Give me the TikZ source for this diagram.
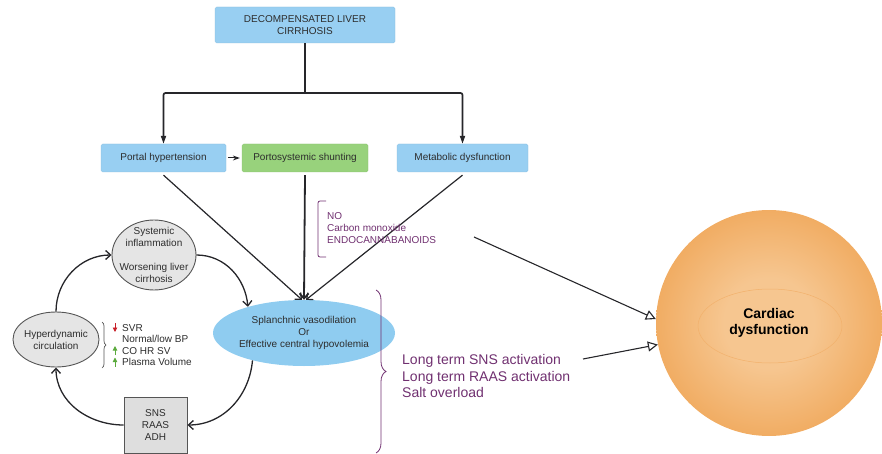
\documentclass[tikz,border=0pt]{standalone}
\usepackage{fontspec}
\setmainfont{Liberation Sans}
\usetikzlibrary{positioning, arrows.meta, shapes, decorations.pathreplacing}
\definecolor{kskyblue}{RGB}{152,207,242}
\definecolor{kellblue}{RGB}{143,204,240}
\definecolor{kgreen}{RGB}{152,210,124}
\definecolor{klightgrey}{RGB}{229,229,229}
\definecolor{kboxgrey}{RGB}{222,222,222}
\definecolor{kdarkgrey}{RGB}{85,85,85}
\definecolor{ktext}{RGB}{45,45,45}
\definecolor{kline}{RGB}{38,38,42}
\definecolor{kpurple}{RGB}{112,48,112}
\definecolor{kred}{RGB}{200,30,40}
\definecolor{kupgreen}{RGB}{90,170,60}
\definecolor{kcardin}{RGB}{246,198,144}
\definecolor{kcardout}{RGB}{232,130,24}
\pgfdeclareradialshading{cardshade}{\pgfpoint{0bp}{0bp}}{color(0bp)=(kcardin); color(10bp)=(kcardin); color(50bp)=(kcardout); color(100bp)=(kcardout)}

\tikzset{
    bluebox/.style={rectangle, rounded corners=1.5pt, fill=kskyblue, draw=kskyblue!90!black, line width=0.3pt, text=ktext, align=center, minimum height=28, inner sep=0pt},
    greenbox/.style={bluebox, fill=kgreen, draw=kgreen!90!black},
    greyell/.style={ellipse, draw=kdarkgrey, line width=0.9pt, fill=klightgrey, inner sep=0pt},
    tree/.style={line width=1.7pt, draw=kline, rounded corners=2pt},
    conv/.style={line width=1.2pt, draw=kline, -{Straight Barb[length=5pt, width=9pt]}},
    cyc/.style={line width=1.3pt, draw=kline, -{Straight Barb[length=5pt, width=9pt]}},
    feed/.style={line width=1.1pt, draw=kline, -{Triangle[open, length=10pt, width=10pt]}},
    purp/.style={text=kpurple, align=left, inner sep=1pt},
    tinyarrow/.style={line width=0.9pt, -{Triangle[length=4.5pt, width=4.5pt]}}
}

\begin{document}
\begin{tikzpicture}[x=1pt, y=1pt, font=\fontsize{10}{12}\selectfont]
        \useasboundingbox (0,0) rectangle (882,-454);

        % cardiac dysfunction
        \node[circle, minimum size=226, shading=cardshade, inner sep=0pt, font=\bfseries\fontsize{14}{16}\selectfont, align=center] (cardiac) at (769,-323) {Cardiac\\dysfunction};
        \draw[kcardout!30!kcardin, line width=0.5pt] (770,-326) ellipse[x radius=72, y radius=37];

        % tree
        \node[bluebox, minimum width=180, minimum height=36] (cirr) at (305,-25) {DECOMPENSATED LIVER\\CIRRHOSIS};
        \node[bluebox, minimum width=125] (portal) at (163.5,-158) {Portal hypertension};
        \node[greenbox, minimum width=126] (shunt) at (305,-158) {Portosystemic shunting};
        \node[bluebox, minimum width=131] (metab) at (462.5,-158) {Metabolic dysfunction};
        \coordinate (split) at (305,-93);
        \draw[tree] (cirr.south) -- (split);
        \draw[tree, -{Triangle[length=8pt, width=5pt]}] (split) -| (portal.north);
        \draw[tree, -{Triangle[length=8pt, width=5pt]}] (split) -| (metab.north);
        \draw[line width=1pt, kline, -{Stealth[length=7pt, width=5pt]}, shorten <=2pt, shorten >=2pt] (portal) -- (shunt);

        % splanchnic vasodilation
        \node[ellipse, fill=kellblue, minimum width=182, minimum height=66, inner sep=0pt] (splanch) at (304,-333) {};
        \node[align=center, text=ktext] at (splanch) {Splanchnic vasodilation\\Or\\Effective central hypovolemia};
        \draw[conv] ([yshift=-3]portal.south) -- ([xshift=-2]splanch.north);
        \draw[conv, line width=1.8pt] ([yshift=-3]shunt.south) -- (splanch.north);
        \draw[conv] ([yshift=-3]metab.south) -- ([xshift=2]splanch.north);

        %% mediators
        \draw[kpurple, line width=0.8pt, rounded corners=2pt] (326,-201) -- (318,-201) -- (318,-257) -- (326,-257);
        \node[purp, anchor=west] (mediators) at (326,-228) {NO\\Carbon monoxide\\ENDOCANNABANOIDS};

        % vicious circle
        \node[greyell, minimum width=84, minimum height=70] (sysinf) at (154,-255) {};
        \node[align=center, text=ktext] at (sysinf) {Systemic\\inflammation\\[12pt]Worsening liver\\cirrhosis};
        \node[greyell, minimum width=86, minimum height=55] (hyper) at (56,-339.5) {};
        \node[align=center, text=ktext] at (hyper) {Hyperdynamic\\circulation};
        \node[rectangle, draw=kdarkgrey, line width=0.9pt, fill=kboxgrey, minimum width=63, minimum height=56, align=center, text=ktext] (sns) at (155.5,-425) {SNS\\RAAS\\ADH};

        \draw[cyc] (hyper.north) to[out=90, in=180] (sysinf.west);
        \draw[cyc] (sysinf.east) to[out=0, in=95] (splanch.155);
        \draw[cyc] (splanch.208) to[out=-95, in=0] (sns.east);
        \draw[cyc] (sns.west) to[out=180, in=-90] (hyper.south);

        %% haemodynamics
        \draw[kdarkgrey, line width=0.7pt, decorate, decoration={brace, amplitude=4pt}] (102,-322) -- (102,-368);
        \node[anchor=west, align=left, inner sep=1pt, text=ktext, font=\fontsize{10}{11.6}\selectfont] (hyperlist) at (121,-345) {SVR\\Normal/low BP\\CO HR SV\\Plasma Volume};
        \draw[tinyarrow, kred] (115,-323) -- (115,-332);
        \foreach \y in {350.5,362}
        {
            \draw[tinyarrow, kupgreen] (115,-\y-4.5) -- (115,-\y+4.5);
        }

        % long term effects
        \draw[kpurple, line width=0.8pt, decorate, decoration={brace, amplitude=10pt}] (376,-290) -- (376,-453);
        \node[purp, anchor=west, font=\fontsize{14}{16.5}\selectfont] (longterm) at (401,-376) {Long term SNS activation\\Long term RAAS activation\\Salt overload};

        \coordinate (noout) at (474,-237);
        \coordinate (ltout) at (583,-359);
        \draw[feed] (noout) -- (cardiac.178);
        \draw[feed] (ltout) -- (cardiac.191);
\end{tikzpicture}
\end{document}
